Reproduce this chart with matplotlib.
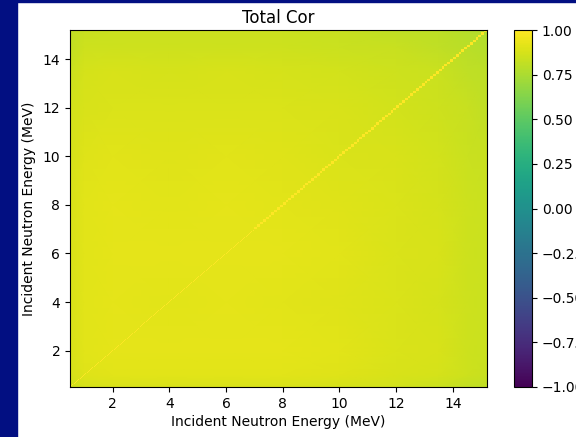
import numpy as np
import matplotlib
matplotlib.use("Agg")
import matplotlib.pyplot as plt
from matplotlib.patches import Rectangle

# Energy nodes (MeV) at which the covariance-derived correlation is tabulated
energy_nodes = [0.5, 1.0, 2.0, 4.0, 6.0, 8.0, 10.0, 12.0, 13.5, 14.5, 15.2]

# Off-diagonal correlation between incident energies (symmetric)
corr_nodes = [
    [0.85, 0.87, 0.88, 0.88, 0.88, 0.88, 0.87, 0.86, 0.84, 0.82, 0.81],
    [0.87, 0.90, 0.91, 0.91, 0.91, 0.91, 0.90, 0.88, 0.87, 0.85, 0.83],
    [0.88, 0.91, 0.92, 0.92, 0.92, 0.92, 0.91, 0.89, 0.88, 0.85, 0.84],
    [0.88, 0.91, 0.92, 0.91, 0.92, 0.91, 0.90, 0.89, 0.87, 0.85, 0.84],
    [0.88, 0.91, 0.92, 0.92, 0.92, 0.92, 0.91, 0.89, 0.88, 0.85, 0.84],
    [0.88, 0.91, 0.92, 0.91, 0.92, 0.91, 0.90, 0.89, 0.87, 0.85, 0.84],
    [0.87, 0.90, 0.91, 0.90, 0.91, 0.90, 0.89, 0.88, 0.86, 0.84, 0.83],
    [0.86, 0.88, 0.89, 0.89, 0.89, 0.89, 0.88, 0.86, 0.85, 0.83, 0.81],
    [0.84, 0.87, 0.88, 0.87, 0.88, 0.87, 0.86, 0.85, 0.84, 0.81, 0.80],
    [0.82, 0.85, 0.85, 0.85, 0.85, 0.85, 0.84, 0.83, 0.81, 0.79, 0.78],
    [0.81, 0.83, 0.84, 0.84, 0.84, 0.84, 0.83, 0.81, 0.80, 0.78, 0.77],
]

# Group structure: fine groups below 7 MeV, coarser groups above
e_min, e_split, e_max = 0.5, 7.0, 15.2
fine_width, coarse_width = 0.035, 0.1

cbar_ticks = [-1.00, -0.75, -0.50, -0.25, 0.00, 0.25, 0.50, 0.75, 1.00]

W, H = 576, 437
fig = plt.figure(figsize=(W / 100, H / 100), dpi=100)
fig.patch.set_facecolor("white")
navy = "#020f82"
fig.patches.append(Rectangle((0, 0), 17 / W, 1, transform=fig.transFigure,
                             color=navy, zorder=-10))
fig.patches.append(Rectangle((0, 1 - 2 / H), 1, 2 / H, transform=fig.transFigure,
                             color=navy, zorder=-10))

ax = fig.add_axes([70 / W, 1 - 387 / H, (487 - 70) / W, (387 - 30) / H])
cax = fig.add_axes([514 / W, 1 - 387 / H, (532 - 514) / W, (387 - 30) / H])

E = np.array(energy_nodes)
C = np.array(corr_nodes)
mesh = ax.pcolormesh(E, E, C, shading="gouraud", cmap="viridis", vmin=-1, vmax=1)

edges = np.concatenate([np.arange(e_min, e_split, fine_width),
                        np.arange(e_split, e_max + 1e-9, coarse_width)])
n_groups = len(edges) - 1
# each group is fully correlated with itself
self_corr = np.ones(n_groups)
diag = np.full((n_groups, n_groups), np.nan)
idx = np.arange(n_groups)
diag[idx, idx] = self_corr
ax.pcolormesh(edges, edges, np.ma.masked_invalid(diag), cmap="viridis",
              vmin=-1, vmax=1, antialiased=True, linewidth=0)

ax.set_xlim(e_min, e_max)
ax.set_ylim(e_min, e_max)
ax.set_xticks([2, 4, 6, 8, 10, 12, 14])
ax.set_yticks([2, 4, 6, 8, 10, 12, 14])
ax.set_xlabel("Incident Neutron Energy (MeV)", labelpad=3)
ax.set_ylabel("Incident Neutron Energy (MeV)", labelpad=5)
ax.set_title("Total Cor", pad=5)

cb = fig.colorbar(mesh, cax=cax)
cb.set_ticks(cbar_ticks)
cb.ax.set_yticklabels([f"{t:.2f}".replace("-", "\u2212") for t in cbar_ticks])

fig.savefig("out.png", dpi=100)
